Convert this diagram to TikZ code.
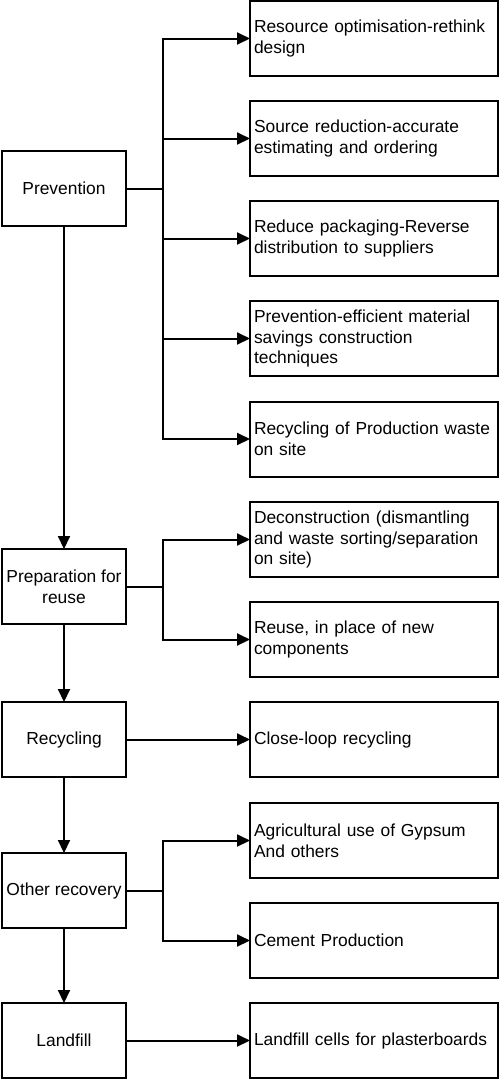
\documentclass[tikz,border=0pt]{standalone}
\usepackage{fontspec}
\setmainfont{Liberation Sans}
\usetikzlibrary{arrows.meta}
\begin{document}
\begin{tikzpicture}[x=1pt,y=-1pt,
  lbox/.style={draw,line width=2pt,outer sep=0pt,anchor=north west,minimum width=124pt,minimum height=75pt,inner sep=2pt,align=center,font=\fontsize{17.4}{20.9}\selectfont},
  rbox/.style={draw,line width=2pt,outer sep=0pt,anchor=north west,text width=240pt,inner xsep=4pt,inner ysep=2pt,minimum height=75pt,align=left,font=\fontsize{17.4}{20.9}\selectfont},
  conn/.style={line width=2pt},
  arr/.style={line width=2pt,-{Triangle[length=13pt,width=12pt]}}]
\useasboundingbox (0,0) rectangle (499,1080);
\fill[white] (0,0) rectangle (499,1080);
% left column
\node[lbox] (prev) at (2,151) {Prevention};
\node[lbox] (prep) at (2,549) {Preparation for\\reuse};
\node[lbox] (rec)  at (2,702) {Recycling};
\node[lbox] (oth)  at (2,853) {Other recovery};
\node[lbox] (land) at (2,1003) {Landfill};
% right column
\node[rbox] (r1)  at (250,1)    {Resource optimisation-rethink\\design};
\node[rbox] (r2)  at (250,101)  {Source reduction-accurate\\estimating and ordering};
\node[rbox] (r3)  at (250,201)  {Reduce packaging-Reverse\\distribution to suppliers};
\node[rbox] (r4)  at (250,301)  {Prevention-efficient material\\savings construction\\techniques};
\node[rbox] (r5)  at (250,401.5){Recycling of Production waste\\on site};
\node[rbox] (r6)  at (250,502)  {Deconstruction (dismantling\\and waste sorting/separation\\on site)};
\node[rbox] (r7)  at (250,602)  {Reuse, in place of new\\components};
\node[rbox] (r8)  at (250,702)  {Close-loop recycling};
\node[rbox] (r9)  at (250,803)  {Agricultural use of Gypsum\\And others};
\node[rbox] (r10) at (250,903)  {Cement Production};
\node[rbox] (r11) at (250,1003) {Landfill cells for plasterboards};
% bus coordinates
\coordinate (b1) at (163,188.5);
\coordinate (b2) at (163,586.5);
\coordinate (b4) at (163,890.5);
% prevention branches
\draw[conn] (prev.east) -- (b1);
\foreach \r in {r1,r2,r3,r4,r5} \draw[arr] (b1) |- (\r.west);
% preparation branches
\draw[conn] (prep.east) -- (b2);
\foreach \r in {r6,r7} \draw[arr] (b2) |- (\r.west);
% recycling
\draw[arr] (rec.east) -- (r8.west);
% other recovery
\draw[conn] (oth.east) -- (b4);
\foreach \r in {r9,r10} \draw[arr] (b4) |- (\r.west);
% landfill
\draw[arr] (land.east) -- (r11.west);
% vertical flow
\draw[arr] (prev.south) -- (prep.north);
\draw[arr] (prep.south) -- (rec.north);
\draw[arr] (rec.south) -- (oth.north);
\draw[arr] (oth.south) -- (land.north);
\end{tikzpicture}
\end{document}
